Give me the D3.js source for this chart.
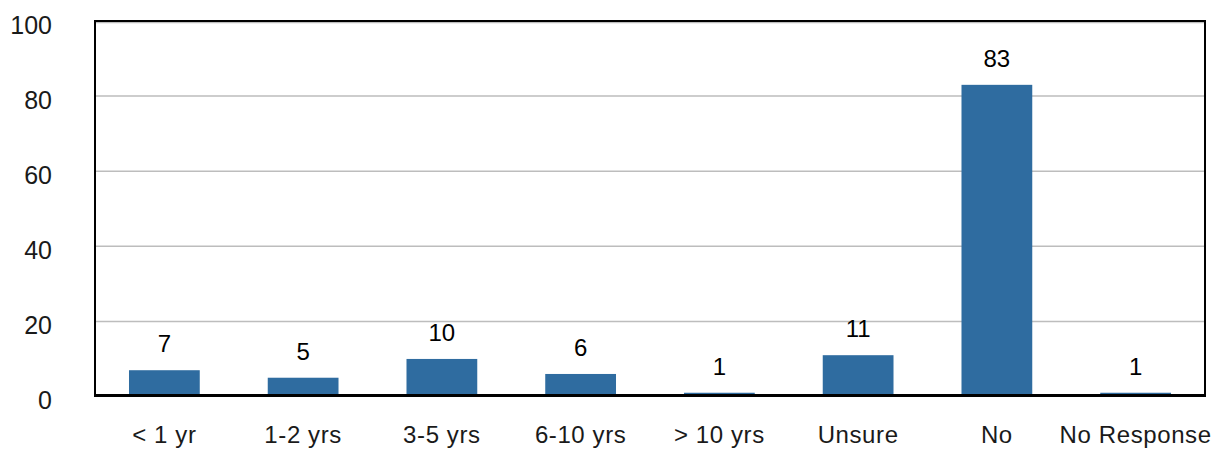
<!DOCTYPE html>
<html><head><meta charset="utf-8">
<script src="https://cdn.jsdelivr.net/npm/d3@7"></script>
<style>body{margin:0;background:#fff}svg{display:block}</style>
</head><body>
<svg id="c" width="1216" height="449"></svg>
<script>
const categories = ["< 1 yr","1-2 yrs","3-5 yrs","6-10 yrs","> 10 yrs","Unsure","No","No Response"];
const values = [7,5,10,6,1,11,83,1];
const yTicks = [0,20,40,60,80,100];

const svg = d3.select("#c");
const L=95,R=1205,T=21,B=395;
const x = d3.scaleBand().domain(categories).range([L,R]).paddingInner(0.49).paddingOuter(0.245);
const y = d3.scaleLinear().domain([0,100]).range([396.5,T]);
const font = "'Liberation Sans', Arial, Helvetica, sans-serif";

// gridlines
svg.append("g").selectAll("line").data(yTicks.filter(d=>d>0)).join("line")
  .attr("x1",L).attr("x2",R).attr("y1",d=>y(d)+(d===100?1.5:0)).attr("y2",d=>y(d)+(d===100?1.5:0))
  .attr("stroke","#bdbdbd").attr("stroke-width",1.5);

// bars
svg.append("g").selectAll("rect").data(values).join("rect")
  .attr("x",(d,i)=>x(categories[i])).attr("width",x.bandwidth())
  .attr("y",d=>y(d)).attr("height",d=>y(0)-y(d))
  .attr("fill","#2f6ca0");

// frame
svg.append("rect").attr("x",L).attr("y",T).attr("width",R-L).attr("height",B-T)
  .attr("fill","none").attr("stroke","#000").attr("stroke-width",2);
svg.append("rect").attr("x",L-1).attr("y",B-1).attr("width",R-L+2).attr("height",3).attr("fill","#000");

// y tick labels
svg.append("g").selectAll("text").data(yTicks).join("text")
  .attr("x",52).attr("y",d=>y(d)+12.5).attr("text-anchor","end")
  .attr("font-family",font).attr("font-size",25).attr("fill","#1a1a1a").text(d=>d);

// category labels
svg.append("g").selectAll("text").data(categories).join("text")
  .attr("x",d=>x(d)+x.bandwidth()/2).attr("y",443).attr("text-anchor","middle")
  .attr("font-family",font).attr("font-size",24).attr("letter-spacing",0.6).attr("fill","#1a1a1a").text(d=>d);

// value labels
svg.append("g").selectAll("text").data(values).join("text")
  .attr("x",(d,i)=>x(categories[i])+x.bandwidth()/2).attr("y",d=>y(d)-18).attr("text-anchor","middle")
  .attr("font-family",font).attr("font-size",24).attr("fill","#000").text(d=>d);
</script>
</body></html>
